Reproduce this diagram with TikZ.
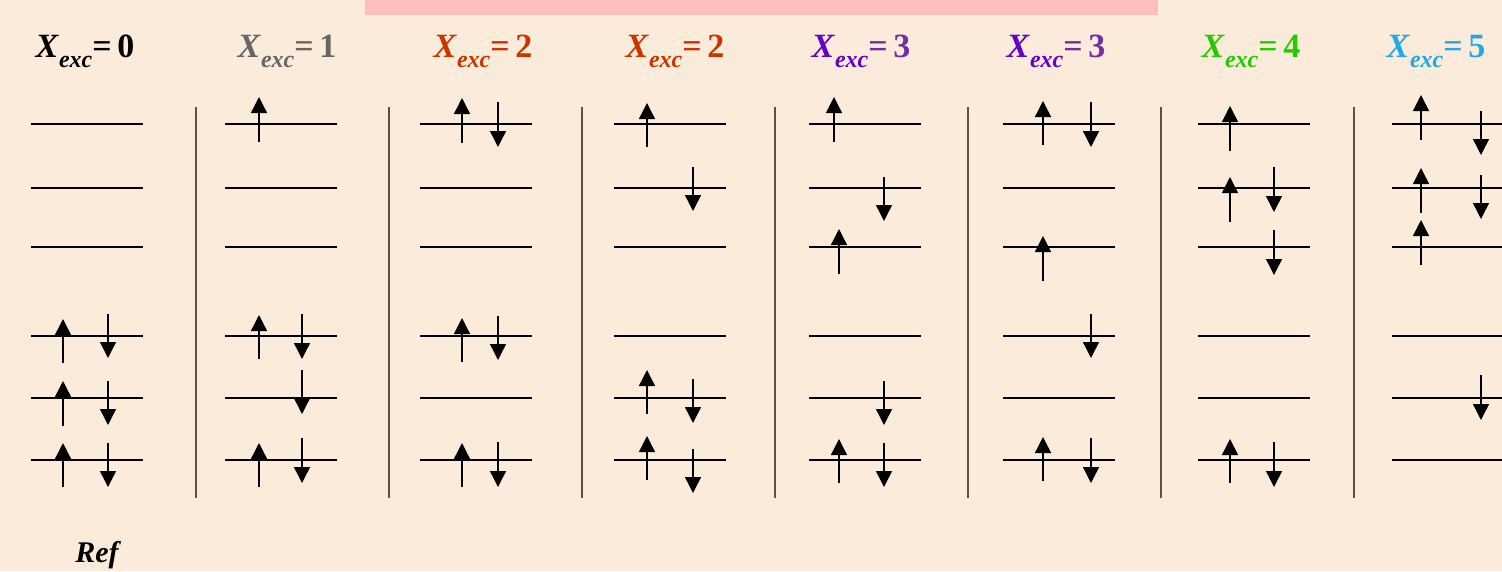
\documentclass[tikz,border=0pt]{standalone}
\usepackage{fontspec}
\setmainfont{Liberation Serif}
\usetikzlibrary{arrows.meta}

\definecolor{bgcream}{RGB}{251,235,218}
\definecolor{barpink}{RGB}{255,190,190}
\definecolor{excgray}{RGB}{102,102,102}
\definecolor{excorange}{RGB}{204,51,0}
\definecolor{excviolet}{RGB}{102,0,204}
\definecolor{excpurple}{RGB}{112,48,160}
\definecolor{excgreen}{RGB}{34,204,0}
\definecolor{excblue}{RGB}{31,169,232}
\definecolor{sepgray}{RGB}{90,82,74}

% title: X_exc = n, with two colours
\newcommand{\xexc}[3]{{\color{#1}\textbf{\textit{X}}\raisebox{-0.3em}{\fontsize{24}{24}\selectfont\textbf{\textit{exc}}}}{\color{#2}\textbf{=\,#3}}}

\begin{document}
\begin{tikzpicture}[
  x=1pt, y=-1pt,
  level/.style={line width=1.4pt, black},
  sep/.style={line width=1.8pt, sepgray},
  spin/.style={line width=1.4pt, -{Triangle[width=16pt,length=16pt]}},
  title/.style={anchor=base, font=\fontsize{34}{36}\selectfont, inner sep=0pt}
]
  % === background ===
  \fill[bgcream] (0,0) rectangle (1502,571);
  \clip (0,0) rectangle (1502,571);
  \fill[barpink] (365,0) rectangle (1158,15);

  % === titles ===
  \node[title] (t0) at (85,57)   {\xexc{black}{black}{0}};
  \node[title] (t1) at (287,57)  {\xexc{excgray}{excgray}{1}};
  \node[title] (t2) at (483,57)  {\xexc{excorange}{excorange}{2}};
  \node[title] (t3) at (675,57)  {\xexc{excorange}{excorange}{2}};
  \node[title] (t4) at (861,57)  {\xexc{excviolet}{excpurple}{3}};
  \node[title] (t5) at (1056,57) {\xexc{excviolet}{excpurple}{3}};
  \node[title] (t6) at (1251,57) {\xexc{excgreen}{excgreen}{4}};
  \node[title] (t7) at (1436,57) {\xexc{excblue}{excblue}{5}};

  % === levels and separators ===
  \foreach \l in {31,225,420,614,809,1003,1198,1392}
    \foreach \y in {124,188,247,336,398,460}
      \draw[level] (\l,\y) -- ++(112,0);
  \foreach \s in {196,389,582,775,968,1161,1354}
    \draw[sep] (\s,107) -- (\s,498);

  % === column 0: reference ===
  \draw[spin] (63,363) -- (63,319);   \draw[spin] (108,314) -- (108,358);
  \draw[spin] (63,426) -- (63,381);   \draw[spin] (108,381) -- (108,425);
  \draw[spin] (63,487) -- (63,443);   \draw[spin] (108,443) -- (108,487);

  % === column 1 ===
  \draw[spin] (259,142) -- (259,97);
  \draw[spin] (259,359) -- (259,315); \draw[spin] (302,314) -- (302,359);
  \draw[spin] (302,370) -- (302,414);
  \draw[spin] (259,487) -- (259,443); \draw[spin] (302,438) -- (302,483);

  % === column 2 ===
  \draw[spin] (462,143) -- (462,98);  \draw[spin] (498,102) -- (498,147);
  \draw[spin] (462,362) -- (462,318); \draw[spin] (498,316) -- (498,360);
  \draw[spin] (462,487) -- (462,443); \draw[spin] (498,442) -- (498,487);

  % === column 3 ===
  \draw[spin] (647,147) -- (647,103);
  \draw[spin] (693,167) -- (693,211);
  \draw[spin] (647,414) -- (647,370); \draw[spin] (693,379) -- (693,423);
  \draw[spin] (647,480) -- (647,436); \draw[spin] (693,449) -- (693,493);

  % === column 4 ===
  \draw[spin] (834,142) -- (834,97);
  \draw[spin] (884,177) -- (884,221);
  \draw[spin] (839,274) -- (839,229);
  \draw[spin] (884,381) -- (884,425);
  \draw[spin] (839,483) -- (839,439); \draw[spin] (884,443) -- (884,487);

  % === column 5 ===
  \draw[spin] (1043,145) -- (1043,101); \draw[spin] (1091,102) -- (1091,147);
  \draw[spin] (1043,281) -- (1043,236);
  \draw[spin] (1091,314) -- (1091,358);
  \draw[spin] (1043,481) -- (1043,437); \draw[spin] (1091,438) -- (1091,483);

  % === column 6 ===
  \draw[spin] (1230,151) -- (1230,106);
  \draw[spin] (1230,222) -- (1230,177); \draw[spin] (1274,167) -- (1274,212);
  \draw[spin] (1274,230) -- (1274,275);
  \draw[spin] (1230,483) -- (1230,439); \draw[spin] (1274,442) -- (1274,487);

  % === column 7 ===
  \draw[spin] (1421,140) -- (1421,95);  \draw[spin] (1481,111) -- (1481,155);
  \draw[spin] (1421,213) -- (1421,168); \draw[spin] (1481,175) -- (1481,219);
  \draw[spin] (1421,265) -- (1421,220);
  \draw[spin] (1481,375) -- (1481,420);

  % === label below ===
  \node[anchor=base, inner sep=0pt, font=\fontsize{30}{32}\selectfont\bfseries\itshape] (reflab) at (97,562) {Ref};
\end{tikzpicture}
\end{document}
